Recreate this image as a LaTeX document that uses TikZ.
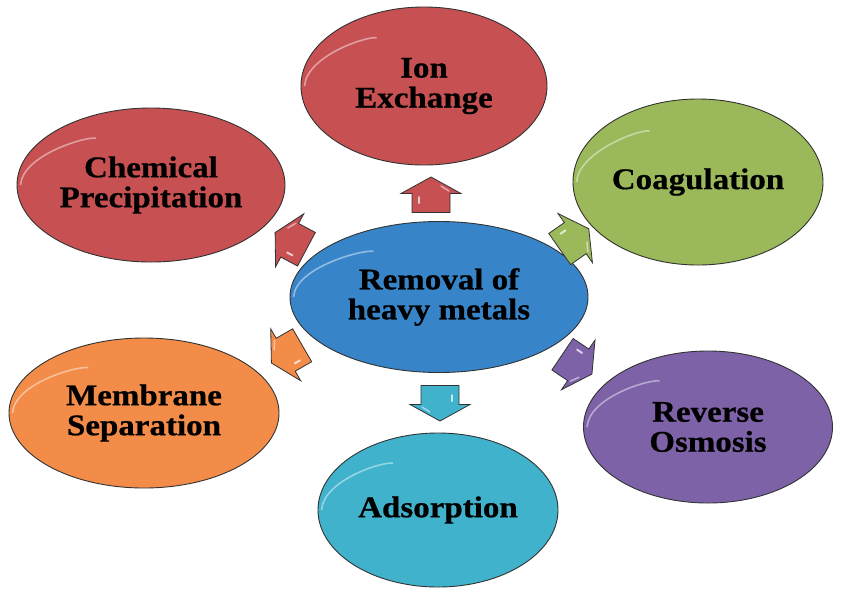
\documentclass[tikz,border=0pt]{standalone}
\usepackage{fontspec}
\newfontfamily\labfont[FakeStretch=1.1,FakeBold=0.6]{Liberation Serif}
\usetikzlibrary{shapes.geometric}
\definecolor{cred}{RGB}{199,80,82}
\definecolor{cgreen}{RGB}{155,185,90}
\definecolor{cblue}{RGB}{55,133,200}
\definecolor{corange}{RGB}{242,140,72}
\definecolor{cpurple}{RGB}{125,98,168}
\definecolor{ccyan}{RGB}{64,178,204}
\tikzset{
  blob/.style={ellipse, draw=black!80, line width=0.9pt, inner sep=0pt,
    align=center, font=\labfont\bfseries\fontsize{30}{30}\selectfont},
  rim/.style={draw=white, opacity=0.45, line width=1.6pt},
  barrow/.pic={
    \fill[#1, draw=black!80, line width=0.8pt]
      (-17.5,-19) -- (1.5,-19) -- (1.5,-30) -- (18,0) -- (1.5,30) -- (1.5,19) -- (-17.5,19) -- cycle;
    \draw[white, opacity=0.7, line width=2pt, line cap=round] (-2,-12) -- (-8,-12);
    \draw[white, opacity=0.5, line width=1.5pt, line cap=round] (4,18) -- (9,10);
  }
}
\begin{document}
\begin{tikzpicture}[x=1pt,y=-1pt]
\useasboundingbox[fill=white] (0,0) rectangle (850,598);
% satellites
\node[blob, fill=cred, minimum width=246pt, minimum height=158pt] (ion) at (424,86) {Ion\\Exchange};
\node[blob, fill=cred, minimum width=268pt, minimum height=154pt] (chem) at (151,185) {Chemical\\Precipitation};
\node[blob, fill=cgreen, minimum width=250pt, minimum height=166pt] (coag) at (698,182) {Coagulation};
\node[blob, fill=cblue, minimum width=298pt, minimum height=151pt] (rem) at (439,297) {Removal of\\heavy metals};
\node[blob, fill=corange, minimum width=270pt, minimum height=150pt] (mem) at (144,413) {Membrane\\Separation};
\node[blob, fill=cpurple, minimum width=249pt, minimum height=152pt] (rev) at (708,427) {Reverse\\Osmosis};
\node[blob, fill=ccyan, minimum width=240pt, minimum height=154pt] (ads) at (438,510) {Adsorption};
% rim highlights
\foreach \n in {ion,chem,coag,rem,mem,rev,ads}{
  \draw[rim] ([shift={(4,0)}]\n.west) .. controls ([shift={(6,-30)}]\n.west) and ([shift={(30,6)}]\n.north west) .. ([shift={(40,8)}]\n.north west);
}
% block arrows
\pic[rotate=90] at (431,195) {barrow=cred};
\pic[rotate=-90] at (440,403) {barrow=ccyan};
\pic[rotate=152] at (291,241) {barrow=cred};
\pic[rotate=210] at (287,354) {barrow=corange};
\pic[rotate=35] at (574,239) {barrow=cgreen};
\pic[rotate=-34] at (577,364) {barrow=cpurple};
\end{tikzpicture}
\end{document}
